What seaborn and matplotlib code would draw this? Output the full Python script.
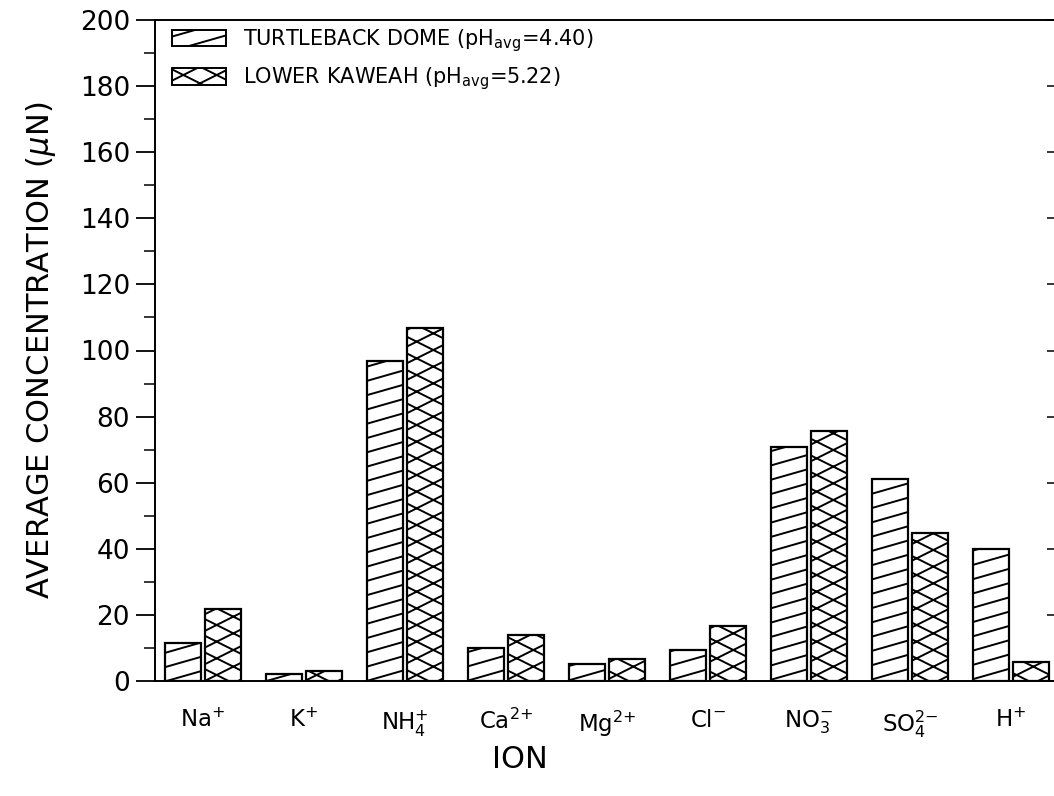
import numpy as np
import pandas as pd
import matplotlib
matplotlib.use("Agg")
import matplotlib.pyplot as plt
import matplotlib.hatch as mhatch
from matplotlib.path import Path
from matplotlib.patches import Patch
from matplotlib.ticker import MultipleLocator
import seaborn as sns

# ---------------- data ----------------
ions = ["Na$^{+}$", "K$^{+}$", "NH$_{4}^{+}$", "Ca$^{2{+}}$", "Mg$^{2{+}}$",
        "Cl$^{-}$", "NO$_{3}^{-}$", "SO$_{4}^{2{-}}$", "H$^{+}$"]
turtleback = [11.4, 2.0, 96.8, 9.9, 5.2, 9.4, 70.9, 61.0, 40.0]
kaweah = [21.8, 3.0, 106.8, 14.0, 6.8, 16.7, 75.6, 44.8, 5.8]
series_labels = ["TURTLEBACK DOME (pH$_{\\mathregular{avg}}$=4.40)",
                 "LOWER KAWEAH (pH$_{\\mathregular{avg}}$=5.22)"]
hatches = ["/", "x"]


# ------------- custom shallow hatch (style only) -------------
class ShallowHatch(mhatch.HatchPatternBase):
    def __init__(self, hatch, density):
        segs = []
        if hatch.count("/"):
            n, k = 7, 2
            for i in range(-2 * n, 2 * n + 1):
                segs.append(((0.0, i / n), (1.0, (i + k) / n)))
        if hatch.count("x"):
            n, k = 6, 3
            for i in range(-2 * n, 2 * n + 1):
                segs.append(((0.0, i / n), (1.0, (i + k) / n)))
                segs.append(((0.0, i / n), (1.0, (i - k) / n)))
        self.segs = segs
        self.num_vertices = 2 * len(segs)

    def set_vertices_and_codes(self, vertices, codes):
        for j, (a, b) in enumerate(self.segs):
            vertices[2 * j] = a
            vertices[2 * j + 1] = b
            codes[2 * j] = Path.MOVETO
            codes[2 * j + 1] = Path.LINETO


mhatch._hatch_types = [ShallowHatch]

# ---------------- style ----------------
sns.set_theme(style="ticks")
plt.rcParams["font.family"] = ["DejaVu Sans"]
plt.rcParams["hatch.linewidth"] = 1.4
plt.rcParams["mathtext.fontset"] = "dejavusans"
plt.rcParams["text.color"] = "black"
plt.rcParams["axes.labelcolor"] = "black"

df = pd.DataFrame({
    "ion": ions * 2,
    "value": turtleback + kaweah,
    "site": ["TB"] * len(ions) + ["KW"] * len(ions),
})

fig = plt.figure(figsize=(10.54, 7.96), dpi=100)
ax = fig.add_axes([155 / 1054, 115 / 796, 1 - 155 / 1054, (681 - 20) / 796])

sns.barplot(data=df, x="ion", y="value", hue="site", hue_order=["TB", "KW"],
            palette=["white", "white"], saturation=1, edgecolor="black",
            linewidth=1.6, width=0.8, gap=0.12, legend=False, ax=ax)

for cont, h in zip(ax.containers, hatches):
    for bar in cont:
        bar.set_hatch(h)

ax.set_xlim(-0.475, (1054 - 203) / 101)
ax.set_ylim(0, 200)
ax.yaxis.set_major_locator(MultipleLocator(20))
ax.yaxis.set_minor_locator(MultipleLocator(10))

for s in ["left", "bottom", "top"]:
    ax.spines[s].set_visible(True)
    ax.spines[s].set_linewidth(1.4)
    ax.spines[s].set_color("black")
ax.spines["right"].set_visible(False)

ax.tick_params(axis="y", which="major", left=True, right=False, length=14,
               width=1.3, direction="out", labelsize=19, pad=4, colors="black")
ax.tick_params(axis="y", which="minor", left=True, right=False, length=8,
               width=1.3, direction="out")
ax.tick_params(axis="x", length=0, labelsize=16.5, pad=20, colors="black")

# right-side short inward ticks
sec = ax.secondary_yaxis("right")
sec.yaxis.set_major_locator(MultipleLocator(20))
sec.tick_params(length=5, width=1.3, direction="in", labelright=False)
sec.spines["right"].set_visible(False)

ax.set_xlabel("ION", fontsize=22, labelpad=6, color="black")
ax.xaxis.set_label_coords((520 - 155) / 899, -0.097)
ax.set_ylabel("AVERAGE CONCENTRATION ($\\mu$N)", fontsize=22, labelpad=16,
              color="black")

handles = [Patch(facecolor="white", edgecolor="black", hatch=h, linewidth=1.4)
           for h in hatches]
fig.legend(handles, series_labels, loc="upper left",
           bbox_to_anchor=(172 / 1054, 1 - 27 / 796), frameon=False,
           fontsize=15, handlelength=2.6, handleheight=0.85,
           handletextpad=0.8, labelspacing=0.55, borderpad=0,
           borderaxespad=0)

fig.savefig("out.png", dpi=100)
